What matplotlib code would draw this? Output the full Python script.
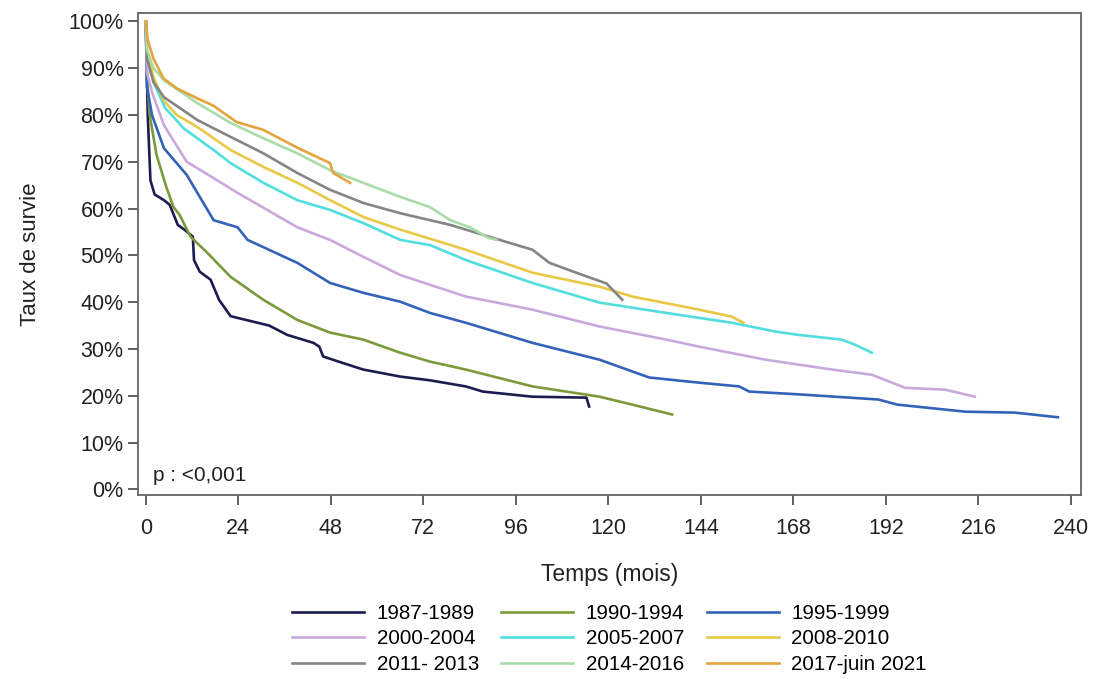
import matplotlib
matplotlib.use('Agg')
import matplotlib.pyplot as plt
from matplotlib.ticker import PercentFormatter

plt.rcParams['font.family'] = ['Liberation Sans', 'DejaVu Sans']

labels = ['1987-1989', '1990-1994', '1995-1999',
          '2000-2004', '2005-2007', '2008-2010',
          '2011- 2013', '2014-2016', '2017-juin 2021']
colors = ['#1c1c4e', '#7b9a3c', '#3462b8',
          '#c9a9dd', '#52dede', '#e8c845',
          '#858585', '#a9dca9', '#e3a43e']

# survival curves (months, %)
t_8789 = [0, 0.5, 1.2, 2.3, 4.7, 6.2, 8.3, 10, 12.2, 12.5, 14, 16.8, 19, 22, 26, 32, 36.7, 43.5, 45, 46, 50, 56.4, 66, 73.7, 83, 87.4, 100.3, 114.3, 115]
s_8789 = [100, 80, 66, 63, 61.8, 60.8, 56.5, 55.5, 54, 49, 46.5, 44.8, 40.5, 37, 36.2, 35, 33, 31.3, 30.5, 28.4, 27.3, 25.6, 24.1, 23.3, 22, 20.9, 19.8, 19.6, 17.7]

t_9094 = [0, 0.3, 1, 2.8, 5.4, 7.2, 8.8, 11.6, 16, 22, 30.5, 39.3, 47.8, 56.4, 66, 73.7, 83, 100.3, 117.7, 126.2, 136.5]
s_9094 = [100, 88, 80, 71.4, 64.4, 60.3, 58.6, 54, 50.5, 45.4, 40.5, 36.2, 33.5, 32, 29.2, 27.3, 25.6, 22, 19.8, 18.1, 16]

t_9599 = [0, 0.3, 1.6, 4.7, 10.6, 17.6, 23.8, 26.4, 39.3, 47.8, 56.4, 66, 73.7, 83, 100.3, 117.7, 130.6, 143.5, 153.9, 156.5, 169.4, 190, 195, 212.6, 225.5, 236.6]
s_9599 = [100, 86, 80, 72.9, 67.2, 57.5, 56, 53.3, 48.4, 44.1, 42, 40.1, 37.7, 35.6, 31.3, 27.7, 23.9, 22.8, 22, 20.9, 20.3, 19.2, 18.1, 16.6, 16.4, 15.4]

t_0004 = [0, 0.3, 1.6, 4.7, 10.6, 17.6, 23.5, 39.3, 47.8, 56.4, 66, 83, 100.3, 117.7, 135, 143.5, 160.8, 178, 188.3, 197, 207.4, 215]
s_0004 = [100, 89, 84.9, 77.8, 70, 66.5, 63.5, 56, 53.3, 49.7, 45.8, 41.2, 38.4, 34.8, 32, 30.5, 27.7, 25.6, 24.5, 21.7, 21.3, 19.8]

t_0507 = [0, 0.3, 2, 5, 10, 17.6, 22, 30.5, 39.3, 47.8, 56.4, 66, 73.7, 83, 100.3, 117.7, 135, 152, 163.4, 169.4, 180.5, 184, 188.3]
s_0507 = [100, 93, 87, 81.5, 77, 72.5, 69.7, 65.5, 61.8, 59.7, 56.9, 53.3, 52.2, 49, 44.1, 39.9, 37.7, 35.6, 33.7, 33, 32, 30.9, 29.2]

t_0810 = [0, 0.3, 2, 4.7, 8, 13.4, 22, 30.5, 39.3, 47.8, 56.4, 66, 83, 100.3, 117.7, 126.2, 143.5, 152, 155]
s_0810 = [100, 94, 88, 83, 80, 77.4, 72.5, 68.9, 65.5, 61.8, 58.2, 55.5, 51.2, 46.3, 43.3, 41.2, 38.4, 36.9, 35.6]

t_1113 = [0, 0.3, 2, 4.7, 13.4, 22, 30.5, 39.3, 47.8, 56.4, 66, 79, 91.8, 100.3, 104.7, 113.3, 119.5, 122.8, 123.6]
s_1113 = [100, 92, 87, 83.8, 78.9, 75.3, 71.8, 67.6, 64, 61.2, 59, 56.5, 53.3, 51.2, 48.4, 45.8, 44, 41.2, 40.5]

t_1416 = [0, 0.3, 2, 4.7, 13.4, 22, 30.5, 39.3, 47.8, 56.4, 66, 73.7, 79, 84, 89, 91]
s_1416 = [100, 94, 90, 87.4, 82.5, 78.3, 75, 71.8, 68.2, 65.5, 62.5, 60.3, 57.5, 56, 53.7, 53.3]

t_1721 = [0, 0.5, 2, 4.6, 8, 13.2, 17.5, 23.5, 30.5, 39.3, 47.8, 48.6, 53]
s_1721 = [100, 96, 92, 87.8, 85.7, 83.6, 82, 78.5, 76.8, 73, 69.7, 67.6, 65.5]

times = [t_8789, t_9094, t_9599, t_0004, t_0507, t_0810, t_1113, t_1416, t_1721]
surv = [s_8789, s_9094, s_9599, s_0004, s_0507, s_0810, s_1113, s_1416, s_1721]

fig = plt.figure(figsize=(10.96, 6.79), dpi=100)
ax = fig.add_axes([0.126, 0.271, 0.86, 0.71])

handles = []
for t, s, c, lab in zip(times, surv, colors, labels):
    h, = ax.plot(t, s, color=c, lw=1.9, label=lab)
    handles.append(h)

ax.set_xlim(-2, 242.5)
ax.set_ylim(-1.2, 101.8)
ax.set_xticks(range(0, 241, 24))
ax.set_yticks(range(0, 101, 10))
ax.yaxis.set_major_formatter(PercentFormatter(decimals=0))
ax.tick_params(direction='out', length=7.5, width=1.2, colors='#444444', labelcolor='#222222', labelsize=15.5)
ax.tick_params(axis='x', pad=9)
ax.tick_params(axis='y', pad=3)
for sp in ax.spines.values():
    sp.set_color('#666666')
    sp.set_linewidth(1.3)

ax.set_xlabel('Temps (mois)', fontsize=16.5, color='#222222', labelpad=17)
ax.set_ylabel('Taux de survie', fontsize=16, color='#222222', labelpad=20)
ax.text(1.8, 1.8, 'p : <0,001', fontsize=15, color='#222222')

# legend is filled row by row in the picture
order = [0, 3, 6, 1, 4, 7, 2, 5, 8]
fig.legend([handles[i] for i in order], [labels[i] for i in order],
           loc='center', bbox_to_anchor=(0.556, 0.059), ncol=3, frameon=False,
           fontsize=14.8, handlelength=3.5, columnspacing=1.1, handletextpad=0.6,
           labelspacing=0.32)

fig.savefig('out.png', dpi=100)
